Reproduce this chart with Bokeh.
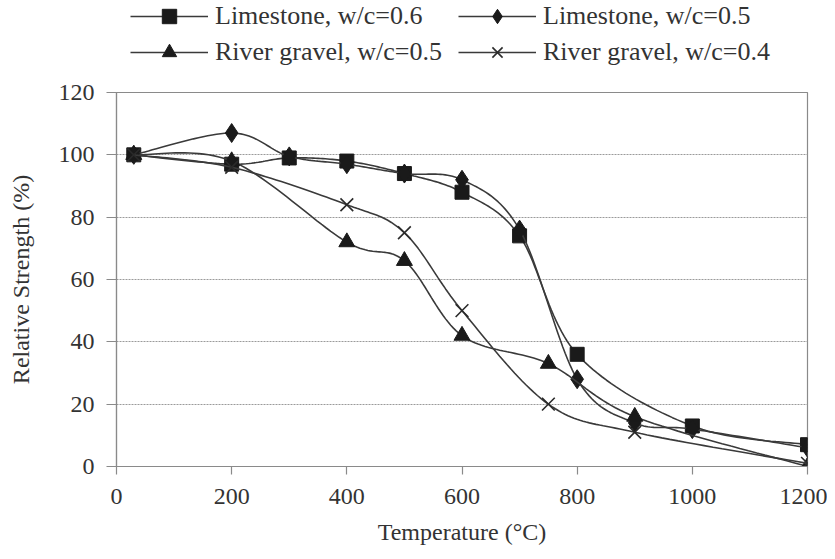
import numpy as np
from bokeh.plotting import figure
from bokeh.layouts import column
from bokeh.models import Legend, LegendItem, Range1d, FixedTicker
from bokeh.embed import file_html
from bokeh.resources import INLINE

# ---- data ----
temp_ls06 = [30, 200, 300, 400, 500, 600, 700, 800, 1000, 1200]
str_ls06 = [100, 97, 99, 98, 94, 88, 74, 36, 13, 7]

temp_ls05 = [30, 200, 300, 400, 500, 600, 700, 800, 900, 1000, 1200]
str_ls05 = [100, 107, 99.5, 97, 94, 92, 76, 28, 14, 12, 6]

temp_rg05 = [30, 200, 400, 500, 600, 750, 900, 1200]
str_rg05 = [100, 98, 72, 66, 42, 33, 16, 0]

temp_rg04 = [30, 200, 400, 500, 600, 750, 900, 1200]
str_rg04 = [100, 96, 84, 75, 50, 20, 11, 1]

labels = ["Limestone, w/c=0.6", "Limestone, w/c=0.5",
          "River gravel, w/c=0.5", "River gravel, w/c=0.4"]
x_ticks = [0, 200, 400, 600, 800, 1000, 1200]
y_ticks = [0, 20, 40, 60, 80, 100, 120]

FONT = "Liberation Serif"
TXT = "#333333"
LINE = "#3a3a3a"
MARK = "#1a1a1a"
NAN = float("nan")


def smooth(xs, ys, n=24):
    """Excel-like smoothed line through the data points (cubic Bezier segments)."""
    P = np.column_stack([xs, ys]).astype(float)
    out = []
    m = len(P)
    for i in range(m - 1):
        p0 = P[i - 1] if i > 0 else P[i]
        p1 = P[i]
        p2 = P[i + 1]
        p3 = P[i + 2] if i + 2 < m else P[i + 1]
        c1 = p1 + (p2 - p0) / 6.0
        c2 = p2 - (p3 - p1) / 6.0
        t = np.linspace(0, 1, n, endpoint=(i == m - 2))[:, None]
        seg = ((1 - t) ** 3) * p1 + 3 * ((1 - t) ** 2) * t * c1 + 3 * (1 - t) * t ** 2 * c2 + t ** 3 * p2
        out.append(seg)
    s = np.vstack(out)
    return s[:, 0], s[:, 1]


# ---------------- main chart ----------------
p = figure(width=827, height=478, x_range=Range1d(0, 1200), y_range=Range1d(0, 120),
           output_backend="svg", toolbar_location=None,
           min_border_left=116, min_border_right=20, min_border_top=14, min_border_bottom=90,
           background_fill_color="white", border_fill_color="white")

p.outline_line_color = "#8a8a8a"
p.outline_line_width = 1.2
p.xgrid.visible = False
p.ygrid.grid_line_color = "#9a9a9a"
p.ygrid.grid_line_dash = "2 1"
p.ygrid.grid_line_width = 1

for ax in (p.xaxis[0], p.yaxis[0]):
    ax.axis_line_color = "#8a8a8a"
    ax.axis_line_width = 1.2
    ax.major_tick_line_color = "#8a8a8a"
    ax.major_tick_line_width = 1.2
    ax.minor_tick_line_color = None
    ax.major_label_text_font = FONT
    ax.major_label_text_font_size = "24px"
    ax.major_label_text_color = TXT
    ax.axis_label_text_font = FONT
    ax.axis_label_text_font_size = "24px"
    ax.axis_label_text_font_style = "normal"
    ax.axis_label_text_color = TXT
    ax.major_tick_in = 0

p.xaxis.ticker = FixedTicker(ticks=x_ticks)
p.yaxis.ticker = FixedTicker(ticks=y_ticks)
p.xaxis.major_tick_out = 8
p.yaxis.major_tick_out = 10
p.xaxis.major_label_standoff = 14
p.yaxis.major_label_standoff = 12
p.xaxis.axis_label = "Temperature (°C)"
p.yaxis.axis_label = "Relative Strength (%)"
p.xaxis.axis_label_standoff = 12
p.yaxis.axis_label_standoff = 22

series = [
    (temp_ls06, str_ls06, "square", 14),
    (temp_ls05, str_ls05, "diamond", 19),
    (temp_rg05, str_rg05, "triangle", 16),
    (temp_rg04, str_rg04, "x", 18),
]

for xs, ys, marker, size in series:
    sx, sy = smooth(xs, ys)
    p.line(sx, sy, line_color=LINE, line_width=1.6)
    if marker == "x":
        p.scatter(xs, ys, marker=marker, size=size, line_color="#2a2a2a", line_width=1.6)
    else:
        p.scatter(xs, ys, marker=marker, size=size, fill_color=MARK, line_color=MARK)

# ---------------- legend strip above the chart ----------------
lg = figure(width=827, height=78, x_range=Range1d(0, 1), y_range=Range1d(0, 1),
            x_axis_type=None, y_axis_type=None,
            output_backend="svg", toolbar_location=None,
            min_border_left=0, min_border_right=0, min_border_top=0, min_border_bottom=0,
            background_fill_color="white", border_fill_color="white")
lg.outline_line_color = None

items = []
for (xs, ys, marker, size), lab in zip(series, labels):
    # legend-only proxies (no visible data in this strip)
    r_line = lg.line([NAN], [NAN], line_color=LINE, line_width=1.6)
    if marker == "x":
        r_mark = lg.scatter([NAN], [NAN], marker=marker, size=size, line_color="#2a2a2a", line_width=1.6)
    else:
        r_mark = lg.scatter([NAN], [NAN], marker=marker, size=size, fill_color=MARK, line_color=MARK)
    items.append(LegendItem(label=lab, renderers=[r_line, r_mark]))

legend = Legend(items=items, location=(14, 8), orientation="horizontal", ncols=2,
                glyph_width=78, glyph_height=36, label_standoff=7, spacing=0,
                label_width=243, label_height=30,
                padding=0, margin=0,
                label_text_font=FONT, label_text_font_size="26px", label_text_color=TXT,
                background_fill_alpha=0, border_line_color=None)
lg.add_layout(legend)

layout = column(lg, p, spacing=0)
open("out.html", "w").write(file_html(layout, INLINE))
